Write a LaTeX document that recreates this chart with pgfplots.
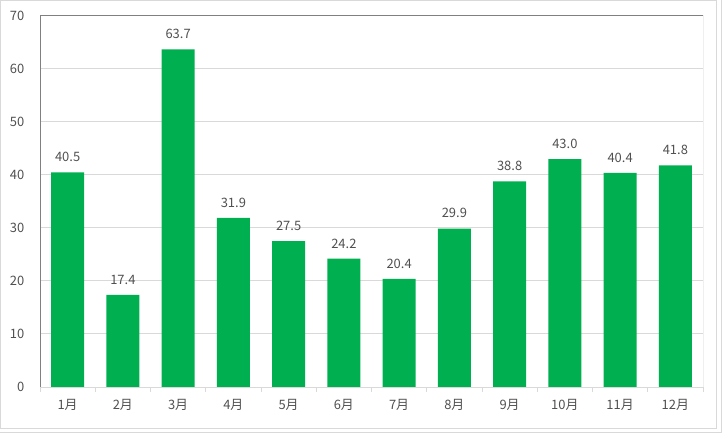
\documentclass[border=0pt]{standalone}
\usepackage{fontspec}
\setmainfont{Noto Sans CJK JP}
\usepackage{pgfplots}
\pgfplotsset{compat=1.18}
\definecolor{bargreen}{HTML}{00B050}
\definecolor{gridgray}{HTML}{D9D9D9}
\definecolor{bordergray}{HTML}{808080}
\definecolor{textgray}{HTML}{505050}

\begin{document}
\begin{tikzpicture}
\path[use as bounding box] (0bp,0bp) rectangle (722bp,433bp);
\draw[gridgray,line width=1bp] (0.5bp,4bp) rectangle (716.5bp,432.5bp);
\draw[gridgray,line width=1bp] (721.5bp,0bp) -- (721.5bp,433bp);
\draw[gridgray,line width=1bp] (0bp,0.5bp) -- (722bp,0.5bp);
\begin{axis}[at={(40bp,46bp)},anchor=south west,
 scale only axis,width=663bp,height=371bp,
 ybar,bar width=33bp,
 xmin=0.5,xmax=12.5,ymin=0,ymax=70,
 xtick={1,...,12},
 xticklabels={1月,2月,3月,4月,5月,6月,7月,8月,9月,10月,11月,12月},
 minor xtick={0.5,1.5,...,12.5},
 ytick={0,10,...,70},
 tick pos=left,
 axis line style={draw=none},
 ymajorgrids,grid style={gridgray,line width=1bp},
 major x tick style={draw=none},major y tick style={draw=none},
 minor x tick style={gridgray,line width=1bp},
 minor tick length=5bp,tick align=outside,
 /pgf/number format/assume math mode=true,
 tick label style={font=\fontsize{13}{15}\selectfont,text=textgray},
 xticklabel style={yshift=-5bp},
 yticklabel style={xshift=-8bp},
 nodes near coords={\pgfmathprintnumber[fixed,fixed zerofill,precision=1]{\pgfplotspointmeta}},
 nodes near coords style={font=\fontsize{13}{15}\selectfont,text=textgray,anchor=south,yshift=7bp},
 ]
\addplot[fill=bargreen,draw=none] coordinates {
 (1,40.5) (2,17.4) (3,63.7) (4,31.9) (5,27.5) (6,24.2)
 (7,20.4) (8,29.9) (9,38.8) (10,43.0) (11,40.4) (12,41.8)};
\draw[gridgray,line width=1bp] (axis cs:0.5,0) -- (axis cs:12.5,0);
\draw[bordergray,line width=1bp] (axis cs:0.5,0) |- (axis cs:12.5,70) -- (axis cs:12.5,0);
\end{axis}
\end{tikzpicture}
\end{document}
